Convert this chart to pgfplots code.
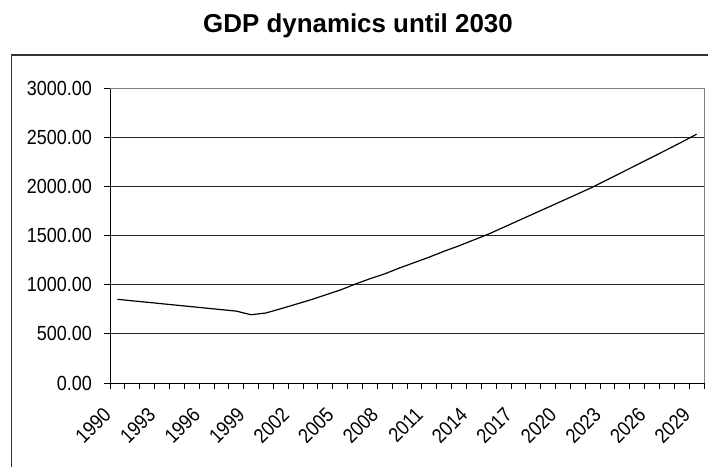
\documentclass[border=0pt]{standalone}
\usepackage{fontspec}
\setmainfont{Liberation Sans}
\usepackage{pgfplots}
\pgfplotsset{compat=1.18}
\newcommand\sx[1]{\scalebox{0.88}[1]{#1}}
\pgfplotstableread{
year gdp
1990 851
1991 836
1992 821
1993 806
1994 791
1995 776
1996 761
1997 746
1998 731
1999 694
2000 712
2001 755
2002 800
2003 845
2004 895
2005 945
2006 1005
2007 1060
2008 1110
2009 1170
2010 1225
2011 1280
2012 1340
2013 1395
2014 1455
2015 1515
2016 1583
2017 1651
2018 1719
2019 1787
2020 1855
2021 1923
2022 1992
2023 2068
2024 2144
2025 2220
2026 2296
2027 2372
2028 2450
2029 2530
}\gdpdata
\begin{document}
\begin{tikzpicture}[x=1bp,y=1bp]
\path[use as bounding box] (0,0) rectangle (708,467);
\draw[line width=1.4bp, black!80] (11.5,0) -- (11.5,412) -- (708,412);
\node[font=\fontsize{26}{30}\selectfont\bfseries, anchor=base] at (358,434.3) {GDP dynamics until 2030};
\begin{axis}[
  at={(110bp,84bp)}, anchor=south west,
  scale only axis, width=594bp, height=295bp,
  xmin=1989.5, xmax=2029.5, ymin=0, ymax=3000,
  axis lines*=left,
  axis line style={black, line width=0.9bp},
  tick align=outside,
  ytick align=outside,
  ytick pos=left,
  major tick length=6bp,
  tick style={black, line width=0.9bp},
  xtick={1989.5,1990.5,...,2029.5},
  xticklabels={},
  extra x ticks={1990,1993,...,2029},
  extra x tick labels={\sx{1990},\sx{1993},\sx{1996},\sx{1999},\sx{2002},\sx{2005},\sx{2008},\sx{2011},\sx{2014},\sx{2017},\sx{2020},\sx{2023},\sx{2026},\sx{2029}},
  extra x tick style={major tick length=0pt, tick style={draw=none}},
  ytick={0,500,...,3000},
  yticklabels={\sx{0.00},\sx{500.00},\sx{1000.00},\sx{1500.00},\sx{2000.00},\sx{2500.00},\sx{3000.00}},
  ymajorgrids,
  grid style={black!85, line width=0.8bp},
  ticklabel style={font=\fontsize{20.5}{24}\selectfont},
  xticklabel style={xshift=-10bp, yshift=-28bp, rotate=45, anchor=east, inner sep=0pt},
  yticklabel style={xshift=-12bp, anchor=east, inner sep=0pt},
  clip=false,
]
\draw[gray, line width=0.9bp] (rel axis cs:0,1) -- (rel axis cs:1,1) -- (rel axis cs:1,0);
\addplot[black, line width=1.2bp] table[x=year, y=gdp] {\gdpdata};
\end{axis}
\end{tikzpicture}
\end{document}
